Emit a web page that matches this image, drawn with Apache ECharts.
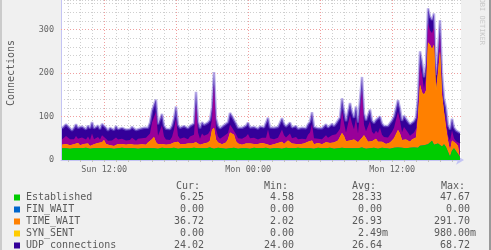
<!DOCTYPE html>
<html><head><meta charset="utf-8">
<script src="https://cdn.jsdelivr.net/npm/echarts@6/dist/echarts.min.js"></script>
<style>html,body{margin:0;padding:0;background:#f0f0f0}#c{width:491px;height:250px}</style>
</head><body><div id="c"></div>
<script>
// x sampling: minutes since the start of the graph (Sun 08:24)
const sampleStartMin = 5;
const sampleStepMin = 10;
const xMaxMin = 2000;

const established = [
 27,26,27,27,26,28,27,28,27,26,27,27,28,27,26,27,27,28,27,26,
 27,28,27,26,27,27,26,28,27,27,28,27,27,26,27,28,27,27,26,27,
 27,26,27,28,27,28,27,27,26,27,28,27,27,26,27,27,28,27,26,27,
 27,28,27,26,27,27,28,27,27,26,27,28,27,27,29,27,26,27,28,27,
 27,27,26,28,27,27,28,27,26,27,27,28,27,27,26,27,28,27,27,26,
 27,27,28,27,26,27,27,28,27,27,26,27,28,27,27,26,27,27,28,27,
 27,26,27,28,27,27,26,27,28,27,27,26,27,27,28,27,26,27,27,28,
 28,27,27,28,27,26,27,28,27,27,29,27,26,28,27,27,28,27,26,27,
 28,27,27,28,26,27,28,27,29,27,28,30,27,29,28,31,29,30,28,33,
 31,34,30,36,33,44,35,32,38,34,31,36,30,28,8,22,27,25,14,7];
const finWait = [
 0,0,0,0,0,0,0,0,0,0,0,0,0,0,0,0,0,0,0,0, 0,0,0,0,0,0,0,0,0,0,0,0,0,0,0,0,0,0,0,0,
 0,0,0,0,0,0,0,0,0,0,0,0,0,0,0,0,0,0,0,0, 0,0,0,0,0,0,0,0,0,0,0,0,0,0,0,0,0,0,0,0,
 0,0,0,0,0,0,0,0,0,0,0,0,0,0,0,0,0,0,0,0, 0,0,0,0,0,0,0,0,0,0,0,0,0,0,0,0,0,0,0,0,
 0,0,0,0,0,0,0,0,0,0,0,0,0,0,0,0,0,0,0,0, 0,0,0,0,0,0,0,0,0,0,0,0,0,0,0,0,0,0,0,0,
 0,0,0,0,0,0,0,0,0,0,0,0,0,0,0,0,0,0,0,0, 0,0,0,0,0,0,0,0,0,0,0,0,0,0,0,0,0,0,0,0];
const timeWait = [
 8,9,10,7,8,6,9,11,12,8,7,10,9,11,6,8,9,10,12,9,
 14,18,10,8,7,9,6,8,10,11,9,7,8,6,10,9,8,7,9,8,
 9,10,8,12,16,20,26,14,10,12,9,11,8,10,9,8,12,14,16,10,
 9,8,10,12,9,11,10,14,12,9,8,10,9,13,16,42,48,20,12,10,
 9,12,14,20,36,40,30,16,12,10,8,9,11,10,12,14,9,8,10,11,
 12,14,9,10,8,11,9,10,12,14,16,10,12,18,20,12,9,10,8,9,
 10,12,11,14,16,18,10,9,11,10,9,12,14,10,11,12,14,16,18,20,
 34,28,16,14,18,22,20,16,14,18,22,30,24,14,12,16,18,22,16,14,
 14,12,10,12,14,18,22,26,40,34,18,16,20,18,14,16,18,22,70,140,
 125,116,130,234,232,211,230,128,162,216,119,74,45,17,14,23,15,13,18,21];
const synSent = [
 0,0,0,0,0,0,0,0,0,0,0,0,0,0,0,0,0,0,0,0, 0,0,0,0,0,0,0,0,0,0,0,0,0,0,0,0,0,0,0,0,
 0,0,0,0,0,0,0,0,0,0,0,0,0,0,0,0,0,0,0,0, 0,0,0,0,0,0,0,0,0,0,0,0,0,0,0,0,0,0,0,0,
 0,0,0,0,0,0,0,0,0,0,0,0,0,0,0,0,0,0,0,0, 0,0,0,0,0,0,0,0,0,0,0,0,0,0,0,0,0,0,0,0,
 0,0,0,0,0,0,0,0,0,0,0,0,0,0,0,0,0,0,0,0, 0,0,0,0,0,0,0,0,0,0,0,0,0,0,0,0,0,0,0,0,
 0,0,0,0,0,0,0,0,0,0,0,0,0,0,0,0,0,0,0,0, 0,0,0,0,0,0,0,0,0,0,0,0,0,0,0,0,0,0,0,0];
const otherTcp = [
 12,14,18,25,14,10,12,16,10,14,18,12,10,16,14,26,12,10,14,12,
 16,15,12,10,14,9,12,16,10,8,12,14,10,12,9,14,12,10,14,12,
 14,12,16,10,18,38,46,70,20,14,43,16,12,14,10,18,30,55,14,12,
 14,16,12,10,18,14,20,88,24,14,26,18,16,20,22,26,100,24,14,12,
 14,16,12,14,18,8,20,16,12,10,14,12,16,23,12,10,14,12,10,14,
 12,10,14,33,16,10,12,9,12,14,28,20,12,10,14,12,10,16,12,10,
 12,14,10,16,20,38,14,12,10,14,12,10,16,14,12,18,13,16,20,24,
 52,30,20,24,58,36,24,52,20,18,110,24,16,20,50,22,14,18,20,33,
 16,14,18,12,16,20,24,22,42,30,18,30,28,16,14,12,16,20,21,47,
 41,13,32,45,33,37,39,8,22,42,22,6,19,10,22,23,8,5,15,10];
const udpConn = [
 26,25,27,26,25,24,26,27,25,26,25,26,24,25,27,26,25,25,26,24,
 26,25,25,24,26,25,25,26,24,25,25,26,25,24,25,25,26,25,24,25,
 25,26,25,24,25,27,28,28,26,25,26,25,25,24,25,26,26,27,25,25,
 25,26,25,25,24,25,26,28,25,24,26,25,25,26,25,26,28,25,25,24,
 25,25,26,25,27,26,26,25,24,25,25,26,25,26,25,24,25,25,25,26,
 25,24,25,27,25,25,26,24,25,25,26,26,25,24,25,25,26,25,24,25,
 25,26,25,24,25,27,26,25,24,25,25,26,25,24,25,26,25,25,26,26,
 28,27,26,26,28,26,26,27,25,25,30,26,25,25,27,26,25,25,26,26,
 26,25,25,26,25,26,26,26,27,27,26,26,26,25,26,25,26,26,26,30,
 28,27,28,34,32,30,33,27,28,30,28,26,26,25,26,27,25,25,25,24];

const xTickLabelValues = [216, 936, 1656];
const xTickLabels = ['Sun 12:00', 'Mon 00:00', 'Mon 12:00'];
const majorGridX = [216, 576, 936, 1296, 1656];
const firstHourMin = 36;
const majorGridY = [100, 200, 300];
const yMax = 368;

const legendNames = ['Established', 'FIN_WAIT', 'TIME_WAIT', 'SYN_SENT', 'UDP connections'];
const legendHeads = ['Cur:', 'Min:', 'Avg:', 'Max:'];
const curVals = ['6.25', '0.00', '36.72', '0.00', '24.02'];
const minVals = ['4.58', '0.00', '2.02', '0.00', '24.00'];
const avgVals = ['28.33', '0.00', '26.93', '2.49m', '26.64'];
const maxVals = ['47.67', '0.00', '291.70', '980.00m', '68.72'];

// styles
const colors = ['#00CC00', '#0066CC', '#FF8000', '#FFCC00', '#330099'];
const otherColor = '#990099';
const mono = 'DejaVu Sans Mono';
const txt = '#5a5a5a';

const xs = established.map((_, i) => sampleStartMin + sampleStepMin * i);

// stacking (bottom to top), cumulative sums drawn from the top layer down
const layers = [
  {name: 'Established', data: established, color: colors[0]},
  {name: 'FIN_WAIT', data: finWait, color: colors[1]},
  {name: 'TIME_WAIT', data: timeWait, color: colors[2]},
  {name: 'SYN_SENT', data: synSent, color: colors[3]},
  {name: 'Other', data: otherTcp, color: otherColor},
  {name: 'UDP connections', data: udpConn, color: colors[4]}
];
let running = xs.map(() => 0);
layers.forEach(l => { running = running.map((s, i) => s + l.data[i]); l.cum = running; });

const hourTicks = [];
for (let m = firstHourMin; m < xMaxMin; m += 60) hourTicks.push(m);

const gridLines = [];
hourTicks.filter(m => !majorGridX.includes(m)).forEach(m =>
  gridLines.push({xAxis: m, lineStyle: {color: '#cfcfcf', type: [1, 2], width: 1}}));
majorGridX.forEach(m =>
  gridLines.push({xAxis: m, lineStyle: {color: '#f0a0a0', type: [1, 2], width: 1}}));
majorGridY.forEach(v =>
  gridLines.push({yAxis: v, lineStyle: {color: '#f0a0a0', type: [1, 2], width: 1}}));

const series = [
  {type: 'line', data: [], z: 1, silent: true,
   markLine: {symbol: 'none', silent: true, animation: false, label: {show: false}, data: gridLines}}
];
layers.forEach((l, k) => {
  const isTop = k === layers.length - 1;
  series.push({
    name: l.name, type: 'line', data: l.cum.map((v, i) => [xs[i], v]),
    showSymbol: false, symbol: 'none', silent: true, z: 10 - k,
    lineStyle: isTop ? {width: 2.5, color: 'rgba(130,110,215,0.55)'} : {width: 0},
    areaStyle: {color: l.color, opacity: 1}, itemStyle: {color: l.color}
  });
});

const graphics = [
  {type: 'rect', shape: {x: 0, y: 0, width: 2, height: 250}, style: {fill: '#CBCBCB'}},
  {type: 'rect', shape: {x: 489, y: 0, width: 2, height: 250}, style: {fill: '#999999'}},
  {type: 'text', x: 482, y: 45, rotation: -Math.PI / 2,
   style: {text: 'RRDTOOL / TOBI OETIKER', fill: '#c8c8c8', fontFamily: mono, fontSize: 7,
           align: 'right', verticalAlign: 'middle'}},
  {type: 'text', x: 11, y: 73, rotation: Math.PI / 2,
   style: {text: 'Connections', fill: txt, fontFamily: mono, fontSize: 10,
           align: 'center', verticalAlign: 'middle'}}
];
const headX = [176, 264, 352, 441];
const colRight = [204, 294, 382, 470];
legendHeads.forEach((h, k) => graphics.push({type: 'text',
  style: {x: headX[k], y: 186, text: h, fill: txt, fontFamily: mono, fontSize: 10, align: 'left', verticalAlign: 'middle'}}));
const cols = [curVals, minVals, avgVals, maxVals];
legendNames.forEach((n, r) => {
  const y = 197.5 + 12 * r;
  graphics.push({type: 'rect', shape: {x: 14, y: y - 3, width: 6, height: 6}, style: {fill: colors[r]}});
  graphics.push({type: 'text', style: {x: 26, y, text: n, fill: txt, fontFamily: mono, fontSize: 10, align: 'left', verticalAlign: 'middle'}});
  cols.forEach((col, k) => {
    let s = col[r], suf = '';
    if (s.endsWith('m')) { suf = 'm'; s = s.slice(0, -1); }
    graphics.push({type: 'text', style: {x: colRight[k], y, text: s, fill: txt, fontFamily: mono, fontSize: 10, align: 'right', verticalAlign: 'middle'}});
    if (suf) graphics.push({type: 'text', style: {x: colRight[k], y, text: suf, fill: txt, fontFamily: mono, fontSize: 10, align: 'left', verticalAlign: 'middle'}});
  });
});

const chart = echarts.init(document.getElementById('c'));
chart.setOption({
  animation: false,
  backgroundColor: '#F0F0F0',
  grid: {left: 61, top: 0, width: 400, height: 160, show: true, backgroundColor: '#ffffff', borderWidth: 0},
  xAxis: {
    type: 'value', min: 0, max: xMaxMin,
    axisLine: {lineStyle: {color: '#c4c4f4', width: 1}, symbol: ['none', 'arrow'], symbolSize: [7, 8], symbolOffset: [0, 3]},
    axisTick: {show: true, customValues: hourTicks, length: 2, lineStyle: {color: '#c0c0c0'}},
    axisLabel: {customValues: xTickLabelValues, margin: 5, color: '#666', fontFamily: mono, fontSize: 8.5,
      formatter: v => { const k = xTickLabelValues.indexOf(v); return k >= 0 ? xTickLabels[k] : ''; }},
    splitLine: {show: false}
  },
  yAxis: {
    type: 'value', min: 0, max: yMax, interval: 20,
    axisLine: {show: true, lineStyle: {color: '#c4c4f4', width: 1}},
    axisTick: {show: false},
    axisLabel: {margin: 7, color: '#666', fontFamily: mono, fontSize: 8.5,
      formatter: v => (v % 100 === 0 ? String(v) : ''), showMaxLabel: false},
    splitLine: {show: true, lineStyle: {color: '#cfcfcf', type: [1, 2], width: 1}}
  },
  series,
  graphic: graphics
});
</script></body></html>
